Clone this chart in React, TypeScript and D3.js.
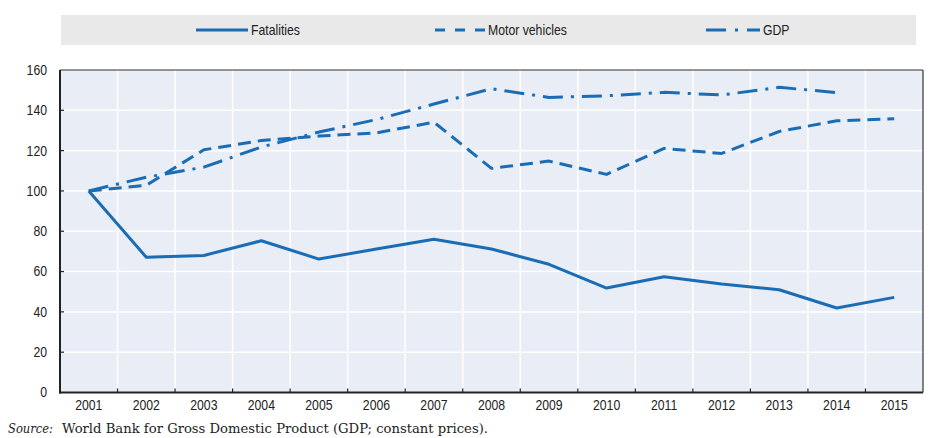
import React from 'react'
import { scaleBand, scaleLinear, line } from 'd3'

const years = ['2001', '2002', '2003', '2004', '2005', '2006', '2007', '2008', '2009', '2010', '2011', '2012', '2013', '2014', '2015']
const fatalities = [100, 67.1, 68, 75.3, 66.2, 71.2, 76, 71.2, 63.6, 51.8, 57.4, 53.8, 51, 41.9, 47.2]
const motorVehicles = [100, 102.8, 120.4, 125, 127.2, 128.8, 134.1, 111.2, 114.8, 108.2, 121.1, 118.6, 129.5, 134.8, 135.8]
const gdp: (number | null)[] = [100, 106.8, 111.8, 121.8, 129.2, 135.4, 143.1, 150.7, 146.4, 147.2, 148.9, 147.6, 151.4, 148.8, null]
const yTicks = [0, 20, 40, 60, 80, 100, 120, 140, 160]

const series = [
  { name: 'Fatalities', values: fatalities, dash: undefined as string | undefined },
  { name: 'Motor vehicles', values: motorVehicles, dash: '13 7' },
  { name: 'GDP', values: gdp, dash: '20 8 3 8' }
]

const W = 946
const H = 438
const M = { top: 70, left: 60, right: 23, bottom: 45.5 }
const BLUE = '#1a6db4'
const SANS = "'Liberation Sans', Arial, sans-serif"

const legendItems = [
  { x: 196, len: 52, dash: undefined as string | undefined },
  { x: 435, len: 50, dash: '10 10' },
  { x: 706, len: 54, dash: '20 9 3 9' }
]

// Arial Narrow look: Liberation Sans squeezed horizontally
const NText: React.FC<{ x: number; y: number; anchor?: string; children: React.ReactNode }> = ({ x, y, anchor = 'start', children }) => (
  <text transform={`translate(${x},${y}) scale(0.875,1)`} dy="0.35em" textAnchor={anchor} fontSize={14} fill="#222">
    {children}
  </text>
)

export default function App() {
  const x = scaleBand<string>().domain(years).range([M.left, W - M.right])
  const y = scaleLinear().domain([0, 160]).range([H - M.bottom, M.top])
  const cx = (i: number) => (x(years[i]) as number) + x.bandwidth() / 2

  const lineGen = line<number | null>()
    .defined((d) => d != null)
    .x((_, i) => cx(i))
    .y((d) => y(d as number))

  const plotW = W - M.left - M.right
  const plotH = H - M.top - M.bottom
  const boundaries = years.slice(1).map((yr) => x(yr) as number)

  return (
    <svg width={W} height={H} style={{ position: 'absolute', left: 0, top: 0 }} fontFamily={SANS}>
      <rect width={W} height={H} fill="#fff" />

      {/* legend */}
      <rect x={61} y={15} width={855} height={30} fill="#e9e9ea" />
      {series.map((s, i) => (
        <g key={s.name}>
          <line
            x1={legendItems[i].x}
            x2={legendItems[i].x + legendItems[i].len}
            y1={30}
            y2={30}
            stroke={BLUE}
            strokeWidth={3}
            strokeDasharray={legendItems[i].dash}
          />
          <NText x={legendItems[i].x + legendItems[i].len + 3} y={30}>
            {s.name}
          </NText>
        </g>
      ))}

      {/* plot area */}
      <rect x={M.left} y={M.top} width={plotW} height={plotH} fill="#e9edf6" />
      {yTicks.slice(1, -1).map((t) => (
        <line key={t} x1={M.left} x2={W - M.right} y1={y(t)} y2={y(t)} stroke="#fff" strokeWidth={1.5} />
      ))}
      {boundaries.map((bx, i) => (
        <line key={i} x1={bx} x2={bx} y1={M.top} y2={H - M.bottom} stroke="#fff" strokeWidth={1.5} />
      ))}

      {series.map((s) => (
        <path
          key={s.name}
          d={lineGen(s.values) || ''}
          fill="none"
          stroke={BLUE}
          strokeWidth={3}
          strokeDasharray={s.dash}
          strokeLinejoin="round"
        />
      ))}

      {/* frame */}
      <line x1={M.left} x2={W - M.right} y1={M.top} y2={M.top} stroke="#333" strokeWidth={1.2} />
      <line x1={W - M.right} x2={W - M.right} y1={M.top} y2={H - M.bottom} stroke="#333" strokeWidth={1.2} />
      <line x1={M.left} x2={M.left} y1={M.top} y2={H - M.bottom + 1} stroke="#222" strokeWidth={2} />
      <line x1={M.left - 1} x2={W - M.right} y1={H - M.bottom} y2={H - M.bottom} stroke="#222" strokeWidth={2} />

      {/* y axis */}
      {yTicks.map((t) => (
        <g key={t}>
          {t > 0 && t < 160 && <line x1={M.left} x2={M.left + 4} y1={y(t)} y2={y(t)} stroke="#222" strokeWidth={1.2} />}
          <NText x={47} y={y(t)} anchor="end">
            {t}
          </NText>
        </g>
      ))}

      {/* x axis */}
      {boundaries.map((bx, i) => (
        <line key={i} x1={bx} x2={bx} y1={H - M.bottom} y2={H - M.bottom - 4} stroke="#222" strokeWidth={1.2} />
      ))}
      {years.map((yr, i) => (
        <NText key={yr} x={cx(i)} y={405} anchor="middle">
          {yr}
        </NText>
      ))}

      {/* source */}
      <text x={8} y={433} fontSize={13} fontStyle="italic" fontFamily="'DejaVu Serif', serif" fill="#222" textLength={45} lengthAdjust="spacingAndGlyphs">
        Source:
      </text>
      <text x={62} y={433} fontSize={13} fontFamily="'DejaVu Serif', serif" fill="#222" textLength={426} lengthAdjust="spacingAndGlyphs">
        World Bank for Gross Domestic Product (GDP; constant prices).
      </text>
    </svg>
  )
}
